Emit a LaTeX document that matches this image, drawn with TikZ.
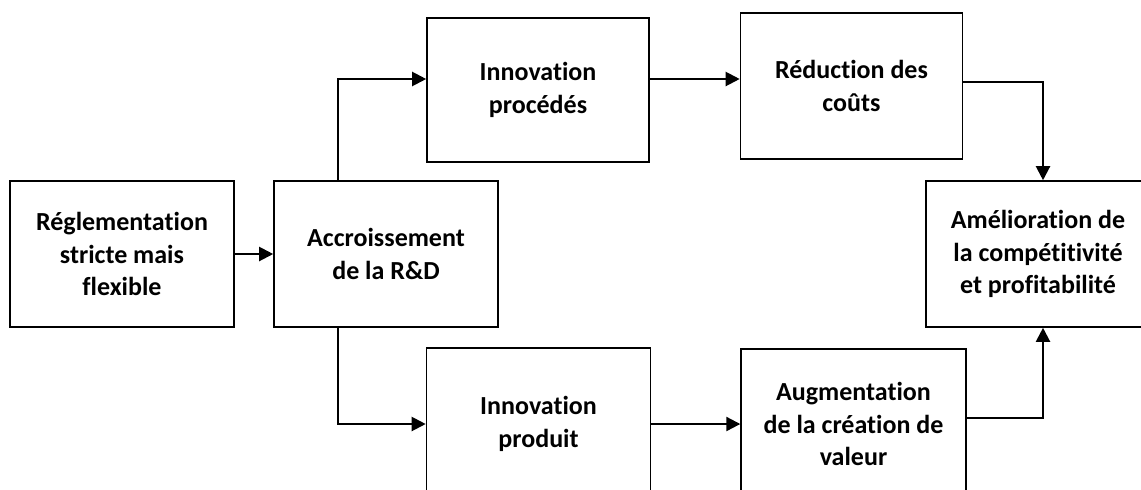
\documentclass[tikz,border=0pt]{standalone}
\usepackage{fontspec}
\setmainfont[Ligatures={NoCommon}]{Carlito}
\usetikzlibrary{arrows.meta}

\tikzset{
	box/.style={draw, line width=1.1pt, minimum width=5.6cm, minimum height=3.65cm,
		align=center, inner sep=0pt, font=\bfseries\fontsize{18.5}{23}\selectfont},
	flow/.style={line width=1.5pt, -{Triangle[length=0.35cm,width=0.35cm]}}
}

\begin{document}
\begin{tikzpicture}[x=0.025cm, y=-0.025cm]
	\clip (0,0) rectangle (1141,489);
	% left column
	\node[box] (regl) at (122,254) {Réglementation\\stricte mais\\flexible};
	\node[box] (accr) at (386,254) {Accroissement\\de la R\&D};
	% upper branch
	\node[box, minimum width=5.55cm, minimum height=3.6cm] (procedes) at (538,90) {Innovation\\procédés};
	\node[box, minimum width=5.55cm] (couts) at (851.5,86) {Réduction des\\coûts};
	% lower branch
	\node[box, minimum height=3.8cm] (produit) at (538.5,424) {Innovation\\produit};
	\node[box, minimum width=5.62cm, minimum height=3.75cm] (valeur) at (853.5,424) {Augmentation\\de la création de\\valeur};
	% result
	\node[box] (amelio) at (1038,254) {Amélioration de\\la compétitivité\\et profitabilité};

	\draw[flow] (regl) -- (accr);
	\draw[flow] ([xshift=-1.2cm]accr.north) |- ([yshift=0.275cm]procedes.west);
	\coordinate (pe) at ([yshift=0.275cm]procedes.east);
	\draw[flow] (pe) -- (pe -| couts.west);
	\draw[flow] ([yshift=0.1cm]couts.east) -| ([xshift=0.125cm]amelio.north);
	\draw[flow] ([xshift=-1.2cm]accr.south) |- (produit.west);
	\draw[flow] (produit) -- (valeur);
	\draw[flow] ([yshift=0.15cm]valeur.east) -| ([xshift=0.125cm]amelio.south);
\end{tikzpicture}
\end{document}
